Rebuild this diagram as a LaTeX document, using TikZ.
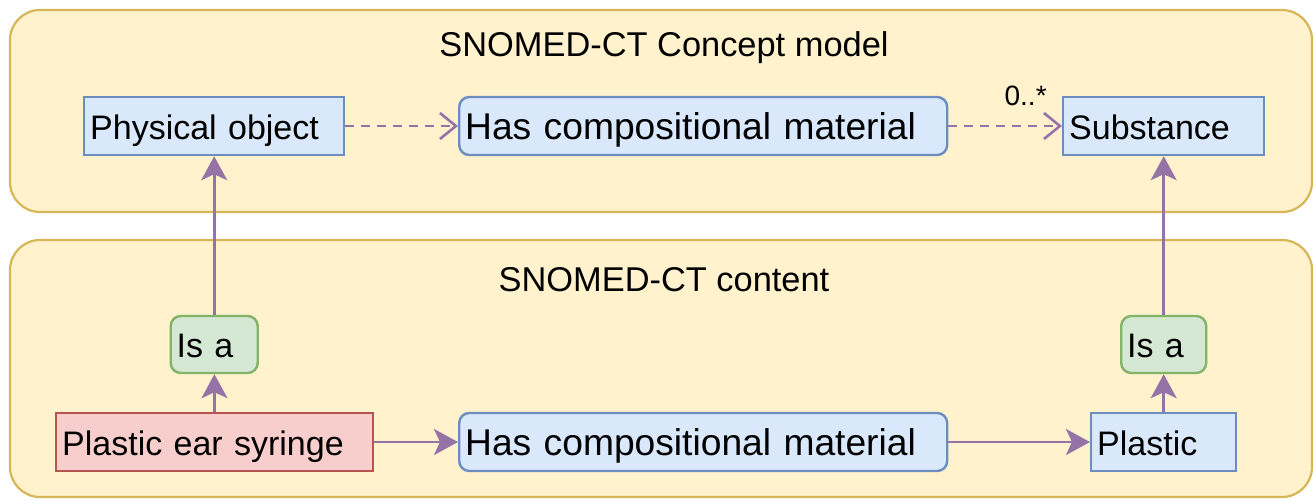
\documentclass[tikz,border=0pt]{standalone}
\usepackage{fontspec}
\setmainfont{Liberation Sans}
\usepackage{xcolor}
\usetikzlibrary{arrows.meta, positioning}

\definecolor{contfill}{HTML}{FFF2CC}
\definecolor{contdraw}{HTML}{D6B656}
\definecolor{bluefill}{HTML}{DAE8FC}
\definecolor{bluedraw}{HTML}{6C8EBF}
\definecolor{greenfill}{HTML}{D5E8D4}
\definecolor{greendraw}{HTML}{82B366}
\definecolor{redfill}{HTML}{F8CECC}
\definecolor{reddraw}{HTML}{B85450}
\definecolor{linkcol}{HTML}{9673A6}

\begin{document}
\begin{tikzpicture}[
		x=0.5pt, y=-0.5pt,
		container/.style={draw=contdraw, fill=contfill, line width=1.1pt, rounded corners=15pt},
		title/.style={font=\fontsize{17.2}{20}\selectfont},
		concept/.style={draw=bluedraw, fill=bluefill, line width=1.2pt, anchor=west, align=left,
			minimum height=29pt, inner xsep=3pt, text height=14.5pt, text depth=1.5pt,
			font=\fontsize{17}{20}\selectfont},
		attribute/.style={concept, rounded corners=5pt, font=\fontsize{18.6}{21}\selectfont},
		isabox/.style={concept, draw=greendraw, fill=greenfill, rounded corners=5pt, minimum height=28.5pt},
		instance/.style={concept, draw=reddraw, fill=redfill},
		dasharrow/.style={draw=linkcol, line width=1.3pt, dash pattern=on 4.5pt off 3.5pt,
			-{Straight Barb[length=8pt, width=13pt, line width=1.3pt]}},
		solidarrow/.style={draw=linkcol, line width=1.3pt, -{Stealth[length=12pt, width=13pt, inset=3pt]}}
		]
	
		\useasboundingbox (0,0) rectangle (1314,500);
	
		% --- Conteneurs ---
		\draw[container] (10,10) rectangle (1312,212);
		\draw[container] (10,240) rectangle (1312,497);
		\node[title] (T1) at (664,48) {SNOMED-CT Concept model};
		\node[title] (T2) at (664,280) {SNOMED-CT content};
	
		% --- Modele ---
		\node[concept, text width=124pt] (PO) at (83,126) {Physical object};
		\node[attribute, text width=238pt] (HC1) at (458,126) {Has compositional material};
		\node[concept, text width=94.5pt] (SU) at (1062,126) {Substance};
	
		% --- Contenu ---
		\node[isabox, text width=37.5pt] (IA1) at (169.5,344.5) {Is a};
		\node[isabox, text width=36.5pt] (IA2) at (1120,344.5) {Is a};
		\node[instance, text width=152.5pt] (PS) at (55,442) {Plastic ear syringe};
		\node[attribute, text width=238pt] (HC2) at (458,442) {Has compositional material};
		\node[concept, text width=66.5pt] (PL) at (1090,442) {Plastic};
	
		\draw[dasharrow] (PO) -- (HC1);
		\draw[dasharrow] (HC1) -- node[pos=0.68, above=6pt, font=\fontsize{14}{16}\selectfont] {0..*} (SU);
		\draw[solidarrow] (PS) -- (IA1);
		\draw[solidarrow] (IA1) -- (PO);
		\draw[solidarrow] (PS) -- (HC2);
		\draw[solidarrow] (HC2) -- (PL);
		\draw[solidarrow] (PL) -- (IA2);
		\draw[solidarrow] (IA2) -- (SU);
	
	\end{tikzpicture}
\end{document}
